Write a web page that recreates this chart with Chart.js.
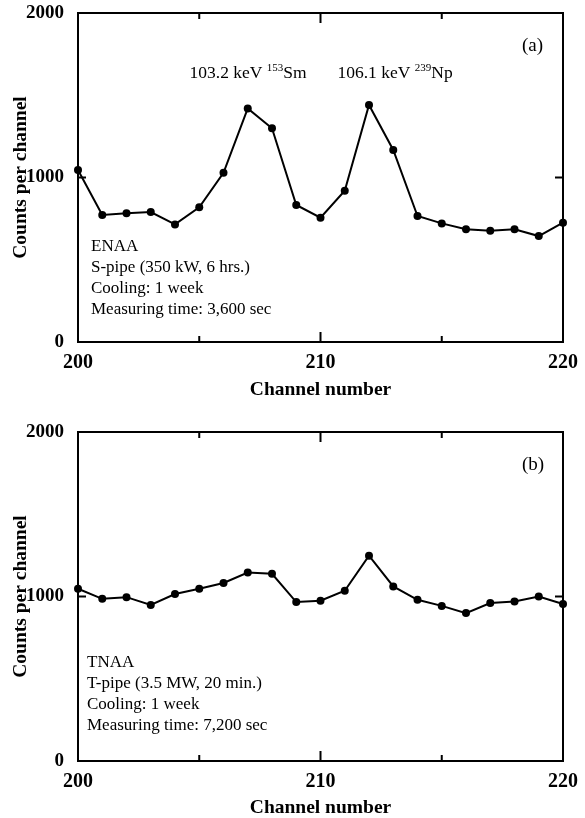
<!DOCTYPE html>
<html>
<head>
<meta charset="utf-8">
<script src="https://cdn.jsdelivr.net/npm/chart.js@4/dist/chart.umd.min.js"></script>
<style>
  body { margin: 0; background: #fff; }
  .box { position: absolute; left: 0; width: 585px; }
</style>
</head>
<body>
<div class="box" style="top:0;height:400px"><canvas id="chartA"></canvas></div>
<div class="box" style="top:419px;height:399px"><canvas id="chartB"></canvas></div>
<script>
const channels = [200, 201, 202, 203, 204, 205, 206, 207, 208, 209, 210,
                  211, 212, 213, 214, 215, 216, 217, 218, 219, 220];
const countsENAA = [1045, 772, 782, 790, 715, 819, 1029, 1420, 1299, 833, 756,
                    920, 1441, 1167, 766, 721, 685, 677, 685, 644, 725];
const countsTNAA = [1047, 986, 996, 949, 1015, 1047, 1082, 1146, 1138, 966, 974,
                    1035, 1248, 1061, 980, 943, 899, 960, 970, 1000, 954];
const xTicks = [200, 205, 210, 215, 220];
const yTicks = [0, 1000, 2000];
const infoENAA = ['ENAA', 'S-pipe (350 kW, 6 hrs.)', 'Cooling: 1 week', 'Measuring time: 3,600 sec'];
const infoTNAA = ['TNAA', 'T-pipe (3.5 MW, 20 min.)', 'Cooling: 1 week', 'Measuring time: 7,200 sec'];
const peaks = [
  { x: 204.6, y: 1635, pre: '103.2 keV ', sup: '153', el: 'Sm' },
  { x: 210.7, y: 1635, pre: '106.1 keV ', sup: '239', el: 'Np' }
];

const serif = '"Liberation Serif", "DejaVu Serif", serif';

// frame + inward ticks + text notes
const frame = {
  id: 'frame',
  afterDatasetsDraw(chart, args, opts) {
    const ctx = chart.ctx;
    const a = chart.chartArea;
    const xs = chart.scales.x, ys = chart.scales.y;
    ctx.save();
    ctx.strokeStyle = '#000';
    ctx.lineWidth = 2;
    ctx.strokeRect(a.left, a.top, a.right - a.left, a.bottom - a.top);
    xTicks.forEach(v => {
      const px = xs.getPixelForValue(v);
      const len = v % 10 === 0 ? 10 : 6;
      ctx.beginPath();
      ctx.moveTo(px, a.bottom); ctx.lineTo(px, a.bottom - len);
      ctx.moveTo(px, a.top); ctx.lineTo(px, a.top + len);
      ctx.stroke();
    });
    yTicks.forEach(v => {
      const py = ys.getPixelForValue(v);
      ctx.beginPath();
      ctx.moveTo(a.left, py); ctx.lineTo(a.left + 8, py);
      ctx.moveTo(a.right, py); ctx.lineTo(a.right - 8, py);
      ctx.stroke();
    });
    ctx.fillStyle = '#000';
    ctx.textBaseline = 'middle';
    ctx.font = '19px ' + serif;
    ctx.fillText(opts.tag, a.right - 41, a.top + 33);
    ctx.font = '17px ' + serif;
    opts.info.forEach((t, i) => ctx.fillText(t, a.left + opts.infoX, a.top + opts.infoY + i * 20.7));
    (opts.peaks || []).forEach(p => {
      let px = xs.getPixelForValue(p.x);
      const py = ys.getPixelForValue(p.y);
      ctx.font = '17.5px ' + serif;
      ctx.fillText(p.pre, px, py);
      px += ctx.measureText(p.pre).width;
      ctx.font = '11px ' + serif;
      ctx.fillText(p.sup, px, py - 5);
      px += ctx.measureText(p.sup).width;
      ctx.font = '17.5px ' + serif;
      ctx.fillText(p.el, px, py);
    });
    ctx.restore();
  }
};

function makeChart(id, values, xAxisH, opts) {
  return new Chart(document.getElementById(id), {
    type: 'line',
    data: {
      labels: channels,
      datasets: [{
        data: channels.map((c, i) => ({ x: c, y: values[i] })),
        borderColor: '#000',
        backgroundColor: '#000',
        borderWidth: 2,
        pointRadius: 4,
        pointBackgroundColor: '#000',
        pointBorderWidth: 0,
        tension: 0,
        clip: false
      }]
    },
    options: {
      responsive: true,
      maintainAspectRatio: false,
      animation: false,
      layout: { padding: { top: 13, right: 22, left: 0, bottom: 0 } },
      plugins: { legend: { display: false }, tooltip: { enabled: false }, frame: opts },
      scales: {
        x: {
          type: 'linear', min: 200, max: 220,
          afterBuildTicks: s => { s.ticks = xTicks.map(v => ({ value: v })); },
          afterFit: s => { s.height = xAxisH; s.paddingLeft = 0; s.paddingRight = 0; },
          grid: { display: false },
          border: { display: false },
          ticks: {
            color: '#000', padding: 1, maxRotation: 0,
            font: { family: serif, size: 20, weight: 'bold' },
            callback: v => (v % 10 === 0 ? String(v) : '')
          },
          title: {
            display: true, text: 'Channel number', color: '#000',
            font: { family: serif, size: 19.5, weight: 'bold', lineHeight: 1 },
            padding: { top: 1, bottom: 0 }
          }
        },
        y: {
          min: 0, max: 2000,
          afterBuildTicks: s => { s.ticks = yTicks.map(v => ({ value: v })); },
          afterFit: s => { s.width = 78; s.paddingTop = 0; s.paddingBottom = 0; },
          grid: { display: false },
          border: { display: false },
          ticks: {
            color: '#000', padding: 6,
            font: { family: serif, size: 19, weight: 'bold' },
            callback: v => String(v)
          },
          title: {
            display: true, text: 'Counts per channel', color: '#000',
            font: { family: serif, size: 19.5, weight: 'bold', lineHeight: 1 },
            padding: { top: 11, bottom: 0 }
          }
        }
      }
    },
    plugins: [frame]
  });
}

makeChart('chartA', countsENAA, 58, { tag: '(a)', info: infoENAA, infoX: 13, infoY: 234, peaks: peaks });
makeChart('chartB', countsTNAA, 57, { tag: '(b)', info: infoTNAA, infoX: 9, infoY: 231 });
</script>
</body>
</html>
